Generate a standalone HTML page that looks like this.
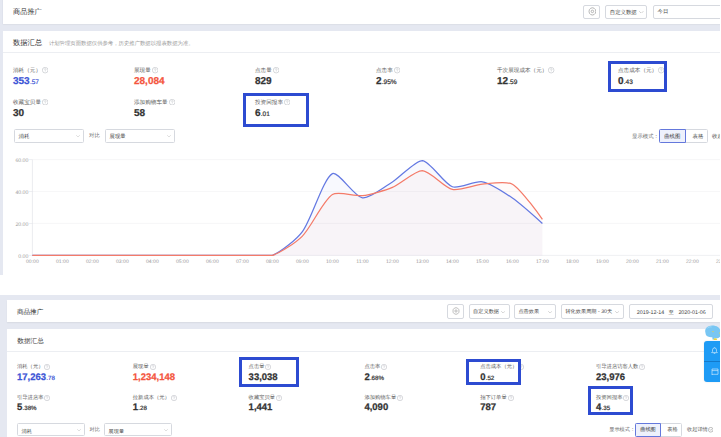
<!DOCTYPE html>
<html><head><meta charset="utf-8"><style>
html,body{margin:0;padding:0;background:#fff;}
body{width:721px;height:437px;position:relative;overflow:hidden;font-family:"Liberation Sans",sans-serif;text-rendering:geometricPrecision;}
.t{position:absolute;white-space:nowrap;line-height:1.15;}
.v{font-weight:bold;-webkit-text-stroke:0.25px currentColor;}
.b{position:absolute;}
.sm{font-weight:normal;-webkit-text-stroke:0.2px currentColor;margin-left:0.2px;}
.qs{display:inline-block;vertical-align:middle;}
</style></head><body>
<div class="b" style="left:0px;top:0px;width:721px;height:274.5px;background:#e5e8f1"></div>
<div class="b" style="left:3px;top:-2px;width:718px;height:25.5px;background:#fff;box-shadow:0 0.8px 1.5px rgba(60,60,70,0.13)"></div>
<div class="t" style="left:13px;top:7.9px;font-size:7.2px;color:#333;">商品推广</div>
<div class="b" style="left:582.7px;top:4.7px;width:17.8px;height:14.8px;border:0.6px solid #d6d9df;border-radius:2px;box-sizing:border-box;background:#fff"></div>
<svg class="b" style="left:587.5px;top:7.4px" width="8.8" height="8.8" viewBox="-6 -6 12 12"><path d="M-2.3,-4.3 Q0,-5.6 2.3,-4.3 Q4.6,-3 4.6,0 Q4.6,3 2.3,4.3 Q0,5.6 -2.3,4.3 Q-4.6,3 -4.6,0 Q-4.6,-3 -2.3,-4.3 Z" fill="none" stroke="#999" stroke-width="0.95"/><circle r="1.7" fill="none" stroke="#999" stroke-width="0.95"/></svg>
<div class="b" style="left:605px;top:4.7px;width:42.3px;height:14.8px;border:0.6px solid #d6d9df;border-radius:2px;box-sizing:border-box;background:#fff"></div>
<div class="t" style="left:609.8px;top:9.6px;font-size:5.4px;color:#444;">自定义数据</div>
<svg class="b" style="left:639px;top:10.8px" width="4.6" height="2.53" viewBox="0 0 10 5.5"><path d="M0.5,0.5 L5,5 L9.5,0.5" fill="none" stroke="#999" stroke-width="1"/></svg>
<div class="b" style="left:652.5px;top:4.7px;width:90px;height:14.8px;border:0.6px solid #d6d9df;border-radius:2px;box-sizing:border-box;background:#fff"></div>
<div class="t" style="left:657.6px;top:9.1px;font-size:5.4px;color:#444;">今日</div>
<div class="b" style="left:3px;top:30.6px;width:718px;height:244px;background:#fff"></div>
<div class="t" style="left:13px;top:38.6px;font-size:7.3px;color:#333;">数据汇总</div>
<div class="t" style="left:48.9px;top:40.6px;font-size:5.37px;color:#999;">计划管理页面数据仅供参考，历史推广数据以报表数据为准。</div>
<div class="b" style="left:3px;top:51.8px;width:718px;height:0.6px;background:#eceef2"></div>
<div class="t" style="left:13px;top:67.4px;font-size:5.6px;color:#5a5a5a">消耗（元）<svg class="qs" viewBox="0 0 12 12" style="width:6.3px;height:6.3px;margin-left:0.94px"><circle cx="6" cy="6" r="5.4" fill="none" stroke="#b9bcc2" stroke-width="1.1"/><path d="M4.4,4.7 A1.6,1.6 0 1 1 6.6,6.2 C6.1,6.5 6,6.8 6,7.4" fill="none" stroke="#b9bcc2" stroke-width="1.1"/><circle cx="6" cy="8.9" r="0.55" fill="#b9bcc2"/></svg></div>
<div class="t v" style="left:13px;top:75.6px;font-size:10px;color:#3d55d6">353<span class="sm" style="font-size:6.5px">.57</span></div>
<div class="t" style="left:134px;top:67.4px;font-size:5.6px;color:#5a5a5a">展现量<svg class="qs" viewBox="0 0 12 12" style="width:6.3px;height:6.3px;margin-left:0.94px"><circle cx="6" cy="6" r="5.4" fill="none" stroke="#b9bcc2" stroke-width="1.1"/><path d="M4.4,4.7 A1.6,1.6 0 1 1 6.6,6.2 C6.1,6.5 6,6.8 6,7.4" fill="none" stroke="#b9bcc2" stroke-width="1.1"/><circle cx="6" cy="8.9" r="0.55" fill="#b9bcc2"/></svg></div>
<div class="t v" style="left:134px;top:75.6px;font-size:10px;color:#f4553e">28,084<span class="sm" style="font-size:6.5px"></span></div>
<div class="t" style="left:255px;top:67.4px;font-size:5.6px;color:#5a5a5a">点击量<svg class="qs" viewBox="0 0 12 12" style="width:6.3px;height:6.3px;margin-left:0.94px"><circle cx="6" cy="6" r="5.4" fill="none" stroke="#b9bcc2" stroke-width="1.1"/><path d="M4.4,4.7 A1.6,1.6 0 1 1 6.6,6.2 C6.1,6.5 6,6.8 6,7.4" fill="none" stroke="#b9bcc2" stroke-width="1.1"/><circle cx="6" cy="8.9" r="0.55" fill="#b9bcc2"/></svg></div>
<div class="t v" style="left:255px;top:75.6px;font-size:10px;color:#333">829<span class="sm" style="font-size:6.5px"></span></div>
<div class="t" style="left:376px;top:67.4px;font-size:5.6px;color:#5a5a5a">点击率<svg class="qs" viewBox="0 0 12 12" style="width:6.3px;height:6.3px;margin-left:0.94px"><circle cx="6" cy="6" r="5.4" fill="none" stroke="#b9bcc2" stroke-width="1.1"/><path d="M4.4,4.7 A1.6,1.6 0 1 1 6.6,6.2 C6.1,6.5 6,6.8 6,7.4" fill="none" stroke="#b9bcc2" stroke-width="1.1"/><circle cx="6" cy="8.9" r="0.55" fill="#b9bcc2"/></svg></div>
<div class="t v" style="left:376px;top:75.6px;font-size:10px;color:#333">2<span class="sm" style="font-size:6.5px">.95%</span></div>
<div class="t" style="left:497px;top:67.4px;font-size:5.6px;color:#5a5a5a">千次展现成本（元）<svg class="qs" viewBox="0 0 12 12" style="width:6.3px;height:6.3px;margin-left:0.94px"><circle cx="6" cy="6" r="5.4" fill="none" stroke="#b9bcc2" stroke-width="1.1"/><path d="M4.4,4.7 A1.6,1.6 0 1 1 6.6,6.2 C6.1,6.5 6,6.8 6,7.4" fill="none" stroke="#b9bcc2" stroke-width="1.1"/><circle cx="6" cy="8.9" r="0.55" fill="#b9bcc2"/></svg></div>
<div class="t v" style="left:497px;top:75.6px;font-size:10px;color:#333">12<span class="sm" style="font-size:6.5px">.59</span></div>
<div class="t" style="left:618px;top:67.4px;font-size:5.6px;color:#5a5a5a">点击成本（元）<svg class="qs" viewBox="0 0 12 12" style="width:6.3px;height:6.3px;margin-left:0.94px"><circle cx="6" cy="6" r="5.4" fill="none" stroke="#b9bcc2" stroke-width="1.1"/><path d="M4.4,4.7 A1.6,1.6 0 1 1 6.6,6.2 C6.1,6.5 6,6.8 6,7.4" fill="none" stroke="#b9bcc2" stroke-width="1.1"/><circle cx="6" cy="8.9" r="0.55" fill="#b9bcc2"/></svg></div>
<div class="t v" style="left:618px;top:75.6px;font-size:10px;color:#333">0<span class="sm" style="font-size:6.5px">.43</span></div>
<div class="t" style="left:13px;top:98.9px;font-size:5.6px;color:#5a5a5a">收藏宝贝量<svg class="qs" viewBox="0 0 12 12" style="width:6.3px;height:6.3px;margin-left:0.94px"><circle cx="6" cy="6" r="5.4" fill="none" stroke="#b9bcc2" stroke-width="1.1"/><path d="M4.4,4.7 A1.6,1.6 0 1 1 6.6,6.2 C6.1,6.5 6,6.8 6,7.4" fill="none" stroke="#b9bcc2" stroke-width="1.1"/><circle cx="6" cy="8.9" r="0.55" fill="#b9bcc2"/></svg></div>
<div class="t v" style="left:13px;top:107.8px;font-size:10px;color:#333">30<span class="sm" style="font-size:6.5px"></span></div>
<div class="t" style="left:134px;top:98.9px;font-size:5.6px;color:#5a5a5a">添加购物车量<svg class="qs" viewBox="0 0 12 12" style="width:6.3px;height:6.3px;margin-left:0.94px"><circle cx="6" cy="6" r="5.4" fill="none" stroke="#b9bcc2" stroke-width="1.1"/><path d="M4.4,4.7 A1.6,1.6 0 1 1 6.6,6.2 C6.1,6.5 6,6.8 6,7.4" fill="none" stroke="#b9bcc2" stroke-width="1.1"/><circle cx="6" cy="8.9" r="0.55" fill="#b9bcc2"/></svg></div>
<div class="t v" style="left:134px;top:107.8px;font-size:10px;color:#333">58<span class="sm" style="font-size:6.5px"></span></div>
<div class="t" style="left:255px;top:98.9px;font-size:5.6px;color:#5a5a5a">投资回报率<svg class="qs" viewBox="0 0 12 12" style="width:6.3px;height:6.3px;margin-left:0.94px"><circle cx="6" cy="6" r="5.4" fill="none" stroke="#b9bcc2" stroke-width="1.1"/><path d="M4.4,4.7 A1.6,1.6 0 1 1 6.6,6.2 C6.1,6.5 6,6.8 6,7.4" fill="none" stroke="#b9bcc2" stroke-width="1.1"/><circle cx="6" cy="8.9" r="0.55" fill="#b9bcc2"/></svg></div>
<div class="t v" style="left:255px;top:107.8px;font-size:10px;color:#333">6<span class="sm" style="font-size:6.5px">.01</span></div>
<div class="b" style="left:243px;top:93px;width:66px;height:34px;border:3px solid #2d4bd1;box-sizing:border-box"></div>
<div class="b" style="left:608.3px;top:61.1px;width:59px;height:30.6px;border:3px solid #2d4bd1;box-sizing:border-box"></div>
<div class="b" style="left:13.5px;top:129.4px;width:70px;height:13.6px;border:0.6px solid #d6d9df;border-radius:1.5px;box-sizing:border-box;background:#fff"></div>
<div class="t" style="left:18.5px;top:133.752px;font-size:5.4px;color:#444;">消耗</div>
<svg class="b" style="left:75.5px;top:135.10000000000002px" width="4.0" height="2.2" viewBox="0 0 10 5.5"><path d="M0.5,0.5 L5,5 L9.5,0.5" fill="none" stroke="#aaa" stroke-width="1"/></svg>
<div class="t" style="left:89px;top:133.4px;font-size:5.4px;color:#666;">对比</div>
<div class="b" style="left:104.5px;top:129.4px;width:70.5px;height:13.6px;border:0.6px solid #d6d9df;border-radius:1.5px;box-sizing:border-box;background:#fff"></div>
<div class="t" style="left:109.5px;top:133.752px;font-size:5.4px;color:#444;">展现量</div>
<svg class="b" style="left:167.0px;top:135.10000000000002px" width="4.0" height="2.2" viewBox="0 0 10 5.5"><path d="M0.5,0.5 L5,5 L9.5,0.5" fill="none" stroke="#aaa" stroke-width="1"/></svg>
<div class="t" style="left:632px;top:134.1px;font-size:5.4px;color:#666;">显示模式：</div>
<div class="b" style="left:658.7px;top:129.2px;width:49px;height:13.4px;border:0.6px solid #d6d9df;border-radius:1.5px;box-sizing:border-box;background:#fff"></div>
<div class="b" style="left:658.7px;top:129.2px;width:27.3px;height:13.4px;border:0.7px solid #6478dc;border-radius:1.5px 0 0 1.5px;box-sizing:border-box;background:#eef1fc"></div>
<div class="t" style="left:664.2px;top:134.1px;font-size:5.4px;color:#333;">曲线图</div>
<div class="t" style="left:692.5px;top:134.1px;font-size:5.4px;color:#555;">表格</div>
<div class="t" style="left:712px;top:134.1px;font-size:5.4px;color:#555;">收起详情</div>
<svg class="b" style="left:0;top:0" width="721" height="437"><line x1="32.4" y1="223.46" x2="721" y2="223.46" stroke="#f1f2f4" stroke-width="0.6"/><line x1="32.4" y1="191.52" x2="721" y2="191.52" stroke="#f1f2f4" stroke-width="0.6"/><line x1="32.4" y1="159.58" x2="721" y2="159.58" stroke="#f1f2f4" stroke-width="0.6"/><line x1="32.4" y1="255.40" x2="721" y2="255.40" stroke="#e4e6ea" stroke-width="0.6"/><line x1="32.4" y1="159.58" x2="32.4" y2="255.40" stroke="#dcdfe4" stroke-width="0.6"/><line x1="29" y1="255.40" x2="32.4" y2="255.40" stroke="#dcdfe4" stroke-width="0.5"/><line x1="29" y1="223.46" x2="32.4" y2="223.46" stroke="#dcdfe4" stroke-width="0.5"/><line x1="29" y1="191.52" x2="32.4" y2="191.52" stroke="#dcdfe4" stroke-width="0.5"/><line x1="29" y1="159.58" x2="32.4" y2="159.58" stroke="#dcdfe4" stroke-width="0.5"/><path d="M32.40,255.40 C32.40,255.40 54.90,255.40 62.40,255.40 C69.90,255.40 84.90,255.40 92.40,255.40 C99.90,255.40 114.90,255.40 122.40,255.40 C129.90,255.40 144.90,255.40 152.40,255.40 C159.90,255.40 174.90,255.40 182.40,255.40 C189.90,255.40 204.90,255.40 212.40,255.40 C219.90,255.40 234.90,255.40 242.40,255.40 C249.90,255.40 265.81,255.40 272.40,255.40 C280.81,252.06 296.85,239.16 302.40,231.60 C311.85,218.72 322.97,178.93 332.40,173.63 C337.97,170.50 354.42,196.80 362.40,197.91 C369.42,198.88 385.20,186.42 392.40,181.94 C400.20,177.08 415.19,160.54 422.40,160.54 C430.19,161.16 443.89,183.72 452.40,186.73 C458.89,189.03 475.33,180.44 482.40,181.78 C490.33,183.28 505.43,193.22 512.40,198.07 C520.43,203.64 542.40,223.46 542.40,223.46 L542.40,255.40 L32.40,255.40 Z" fill="#5470e0" fill-opacity="0.042"/><path d="M32.40,255.40 C32.40,255.40 54.90,255.40 62.40,255.40 C69.90,255.40 84.90,255.40 92.40,255.40 C99.90,255.40 114.90,255.40 122.40,255.40 C129.90,255.40 144.90,255.40 152.40,255.40 C159.90,255.40 174.90,255.40 182.40,255.40 C189.90,255.40 204.90,255.40 212.40,255.40 C219.90,255.40 234.90,255.40 242.40,255.40 C249.90,255.40 265.55,255.40 272.40,255.40 C280.55,252.78 296.24,242.32 302.40,236.08 C311.24,227.11 322.94,200.92 332.40,194.55 C337.94,190.82 355.04,196.55 362.40,195.67 C370.04,194.76 385.27,190.35 392.40,187.37 C400.27,184.08 415.01,170.60 422.40,170.60 C430.01,170.86 444.33,187.62 452.40,189.44 C459.33,191.01 474.84,184.84 482.40,184.17 C489.84,183.52 506.49,180.72 512.40,184.17 C521.49,189.50 542.40,219.31 542.40,219.31 L542.40,255.40 L32.40,255.40 Z" fill="#f0584a" fill-opacity="0.03"/><path d="M32.40,255.40 C32.40,255.40 54.90,255.40 62.40,255.40 C69.90,255.40 84.90,255.40 92.40,255.40 C99.90,255.40 114.90,255.40 122.40,255.40 C129.90,255.40 144.90,255.40 152.40,255.40 C159.90,255.40 174.90,255.40 182.40,255.40 C189.90,255.40 204.90,255.40 212.40,255.40 C219.90,255.40 234.90,255.40 242.40,255.40 C249.90,255.40 265.81,255.40 272.40,255.40 C280.81,252.06 296.85,239.16 302.40,231.60 C311.85,218.72 322.97,178.93 332.40,173.63 C337.97,170.50 354.42,196.80 362.40,197.91 C369.42,198.88 385.20,186.42 392.40,181.94 C400.20,177.08 415.19,160.54 422.40,160.54 C430.19,161.16 443.89,183.72 452.40,186.73 C458.89,189.03 475.33,180.44 482.40,181.78 C490.33,183.28 505.43,193.22 512.40,198.07 C520.43,203.64 542.40,223.46 542.40,223.46" fill="none" stroke="#6479e2" stroke-width="1.25"/><path d="M32.40,255.40 C32.40,255.40 54.90,255.40 62.40,255.40 C69.90,255.40 84.90,255.40 92.40,255.40 C99.90,255.40 114.90,255.40 122.40,255.40 C129.90,255.40 144.90,255.40 152.40,255.40 C159.90,255.40 174.90,255.40 182.40,255.40 C189.90,255.40 204.90,255.40 212.40,255.40 C219.90,255.40 234.90,255.40 242.40,255.40 C249.90,255.40 265.55,255.40 272.40,255.40 C280.55,252.78 296.24,242.32 302.40,236.08 C311.24,227.11 322.94,200.92 332.40,194.55 C337.94,190.82 355.04,196.55 362.40,195.67 C370.04,194.76 385.27,190.35 392.40,187.37 C400.27,184.08 415.01,170.60 422.40,170.60 C430.01,170.86 444.33,187.62 452.40,189.44 C459.33,191.01 474.84,184.84 482.40,184.17 C489.84,183.52 506.49,180.72 512.40,184.17 C521.49,189.50 542.40,219.31 542.40,219.31" fill="none" stroke="#f47b69" stroke-width="1.25"/></svg>
<div class="t" style="left:0;width:28.4px;text-align:right;top:255.10px;font-size:5.2px;color:#9a9a9a">0.00</div>
<div class="t" style="left:0;width:28.4px;text-align:right;top:223.16px;font-size:5.2px;color:#9a9a9a">20.00</div>
<div class="t" style="left:0;width:28.4px;text-align:right;top:191.22px;font-size:5.2px;color:#9a9a9a">40.00</div>
<div class="t" style="left:0;width:28.4px;text-align:right;top:159.28px;font-size:5.2px;color:#9a9a9a">60.00</div>
<div class="t" style="left:17.40px;width:30px;text-align:center;top:260.3px;font-size:5.1px;color:#9a9a9a">00:00</div>
<div class="t" style="left:47.40px;width:30px;text-align:center;top:260.3px;font-size:5.1px;color:#9a9a9a">01:00</div>
<div class="t" style="left:77.40px;width:30px;text-align:center;top:260.3px;font-size:5.1px;color:#9a9a9a">02:00</div>
<div class="t" style="left:107.40px;width:30px;text-align:center;top:260.3px;font-size:5.1px;color:#9a9a9a">03:00</div>
<div class="t" style="left:137.40px;width:30px;text-align:center;top:260.3px;font-size:5.1px;color:#9a9a9a">04:00</div>
<div class="t" style="left:167.40px;width:30px;text-align:center;top:260.3px;font-size:5.1px;color:#9a9a9a">05:00</div>
<div class="t" style="left:197.40px;width:30px;text-align:center;top:260.3px;font-size:5.1px;color:#9a9a9a">06:00</div>
<div class="t" style="left:227.40px;width:30px;text-align:center;top:260.3px;font-size:5.1px;color:#9a9a9a">07:00</div>
<div class="t" style="left:257.40px;width:30px;text-align:center;top:260.3px;font-size:5.1px;color:#9a9a9a">08:00</div>
<div class="t" style="left:287.40px;width:30px;text-align:center;top:260.3px;font-size:5.1px;color:#9a9a9a">09:00</div>
<div class="t" style="left:317.40px;width:30px;text-align:center;top:260.3px;font-size:5.1px;color:#9a9a9a">10:00</div>
<div class="t" style="left:347.40px;width:30px;text-align:center;top:260.3px;font-size:5.1px;color:#9a9a9a">11:00</div>
<div class="t" style="left:377.40px;width:30px;text-align:center;top:260.3px;font-size:5.1px;color:#9a9a9a">12:00</div>
<div class="t" style="left:407.40px;width:30px;text-align:center;top:260.3px;font-size:5.1px;color:#9a9a9a">13:00</div>
<div class="t" style="left:437.40px;width:30px;text-align:center;top:260.3px;font-size:5.1px;color:#9a9a9a">14:00</div>
<div class="t" style="left:467.40px;width:30px;text-align:center;top:260.3px;font-size:5.1px;color:#9a9a9a">15:00</div>
<div class="t" style="left:497.40px;width:30px;text-align:center;top:260.3px;font-size:5.1px;color:#9a9a9a">16:00</div>
<div class="t" style="left:527.40px;width:30px;text-align:center;top:260.3px;font-size:5.1px;color:#9a9a9a">17:00</div>
<div class="t" style="left:557.40px;width:30px;text-align:center;top:260.3px;font-size:5.1px;color:#9a9a9a">18:00</div>
<div class="t" style="left:587.40px;width:30px;text-align:center;top:260.3px;font-size:5.1px;color:#9a9a9a">19:00</div>
<div class="t" style="left:617.40px;width:30px;text-align:center;top:260.3px;font-size:5.1px;color:#9a9a9a">20:00</div>
<div class="t" style="left:647.40px;width:30px;text-align:center;top:260.3px;font-size:5.1px;color:#9a9a9a">21:00</div>
<div class="t" style="left:677.40px;width:30px;text-align:center;top:260.3px;font-size:5.1px;color:#9a9a9a">22:00</div>
<div class="t" style="left:707.40px;width:30px;text-align:center;top:260.3px;font-size:5.1px;color:#9a9a9a">23:00</div>
<div class="b" style="left:0px;top:294.5px;width:721px;height:142.5px;background:#e5e8f1"></div>
<div class="b" style="left:6.7px;top:300.1px;width:713.3px;height:22.1px;background:#fff;box-shadow:0 0.6px 1.2px rgba(60,60,70,0.08)"></div>
<div class="t" style="left:16.9px;top:309.1px;font-size:6.6px;color:#333;">商品推广</div>
<div class="b" style="left:447.4px;top:304.4px;width:16.9px;height:14.2px;border:0.6px solid #d6d9df;border-radius:2px;box-sizing:border-box;background:#fff"></div>
<svg class="b" style="left:451.9px;top:307.4px" width="8.0" height="8.0" viewBox="-6 -6 12 12"><path d="M-2.3,-4.3 Q0,-5.6 2.3,-4.3 Q4.6,-3 4.6,0 Q4.6,3 2.3,4.3 Q0,5.6 -2.3,4.3 Q-4.6,3 -4.6,0 Q-4.6,-3 -2.3,-4.3 Z" fill="none" stroke="#999" stroke-width="0.95"/><circle r="1.7" fill="none" stroke="#999" stroke-width="0.95"/></svg>
<div class="b" style="left:468.5px;top:304.4px;width:41px;height:14.2px;border:0.6px solid #d6d9df;border-radius:2px;box-sizing:border-box;background:#fff"></div>
<div class="t" style="left:473.1px;top:310.3px;font-size:5.2px;color:#444;">自定义数据</div>
<svg class="b" style="left:500.5px;top:310.6px" width="4.2" height="2.3100000000000005" viewBox="0 0 10 5.5"><path d="M0.5,0.5 L5,5 L9.5,0.5" fill="none" stroke="#999" stroke-width="1"/></svg>
<div class="b" style="left:513.8px;top:304.4px;width:42.7px;height:14.2px;border:0.6px solid #d6d9df;border-radius:2px;box-sizing:border-box;background:#fff"></div>
<div class="t" style="left:518.4px;top:310.3px;font-size:5.2px;color:#444;">点击效果</div>
<svg class="b" style="left:547.5px;top:310.6px" width="4.2" height="2.3100000000000005" viewBox="0 0 10 5.5"><path d="M0.5,0.5 L5,5 L9.5,0.5" fill="none" stroke="#999" stroke-width="1"/></svg>
<div class="b" style="left:560.8px;top:304.4px;width:63.3px;height:14.2px;border:0.6px solid #d6d9df;border-radius:2px;box-sizing:border-box;background:#fff"></div>
<div class="t" style="left:565.4px;top:310.3px;font-size:5.2px;color:#444;">转化效果周期 - 30天</div>
<svg class="b" style="left:615.0999999999999px;top:310.6px" width="4.2" height="2.3100000000000005" viewBox="0 0 10 5.5"><path d="M0.5,0.5 L5,5 L9.5,0.5" fill="none" stroke="#999" stroke-width="1"/></svg>
<div class="b" style="left:629.2px;top:304.4px;width:84.3px;height:14.2px;border:0.6px solid #d6d9df;border-radius:2px;box-sizing:border-box;background:#fff"></div>
<div class="t" style="left:636.8px;top:310.2px;font-size:5.35px;color:#444;">2019-12-14 &nbsp; 至 &nbsp; 2020-01-06</div>
<div class="b" style="left:6.5px;top:328.6px;width:713.5px;height:110px;background:#fff"></div>
<div class="t" style="left:17.2px;top:338.0px;font-size:6.7px;color:#444;">数据汇总</div>
<div class="b" style="left:6.5px;top:351.3px;width:713.5px;height:0.6px;background:#eceef2"></div>
<div class="t" style="left:17px;top:364.4px;font-size:5.3px;color:#5a5a5a">消耗（元）<svg class="qs" viewBox="0 0 12 12" style="width:6.0px;height:6.0px;margin-left:0.9px"><circle cx="6" cy="6" r="5.4" fill="none" stroke="#b9bcc2" stroke-width="1.1"/><path d="M4.4,4.7 A1.6,1.6 0 1 1 6.6,6.2 C6.1,6.5 6,6.8 6,7.4" fill="none" stroke="#b9bcc2" stroke-width="1.1"/><circle cx="6" cy="8.9" r="0.55" fill="#b9bcc2"/></svg></div>
<div class="t v" style="left:17px;top:373.0px;font-size:9.5px;color:#3d55d6">17,263<span class="sm" style="font-size:6.2px">.78</span></div>
<div class="t" style="left:132.8px;top:364.4px;font-size:5.3px;color:#5a5a5a">展现量<svg class="qs" viewBox="0 0 12 12" style="width:6.0px;height:6.0px;margin-left:0.9px"><circle cx="6" cy="6" r="5.4" fill="none" stroke="#b9bcc2" stroke-width="1.1"/><path d="M4.4,4.7 A1.6,1.6 0 1 1 6.6,6.2 C6.1,6.5 6,6.8 6,7.4" fill="none" stroke="#b9bcc2" stroke-width="1.1"/><circle cx="6" cy="8.9" r="0.55" fill="#b9bcc2"/></svg></div>
<div class="t v" style="left:132.8px;top:373.0px;font-size:9.5px;color:#f4553e">1,234,148<span class="sm" style="font-size:6.2px"></span></div>
<div class="t" style="left:248.6px;top:364.4px;font-size:5.3px;color:#5a5a5a">点击量<svg class="qs" viewBox="0 0 12 12" style="width:6.0px;height:6.0px;margin-left:0.9px"><circle cx="6" cy="6" r="5.4" fill="none" stroke="#b9bcc2" stroke-width="1.1"/><path d="M4.4,4.7 A1.6,1.6 0 1 1 6.6,6.2 C6.1,6.5 6,6.8 6,7.4" fill="none" stroke="#b9bcc2" stroke-width="1.1"/><circle cx="6" cy="8.9" r="0.55" fill="#b9bcc2"/></svg></div>
<div class="t v" style="left:248.6px;top:373.0px;font-size:9.5px;color:#333">33,038<span class="sm" style="font-size:6.2px"></span></div>
<div class="t" style="left:364.4px;top:364.4px;font-size:5.3px;color:#5a5a5a">点击率<svg class="qs" viewBox="0 0 12 12" style="width:6.0px;height:6.0px;margin-left:0.9px"><circle cx="6" cy="6" r="5.4" fill="none" stroke="#b9bcc2" stroke-width="1.1"/><path d="M4.4,4.7 A1.6,1.6 0 1 1 6.6,6.2 C6.1,6.5 6,6.8 6,7.4" fill="none" stroke="#b9bcc2" stroke-width="1.1"/><circle cx="6" cy="8.9" r="0.55" fill="#b9bcc2"/></svg></div>
<div class="t v" style="left:364.4px;top:373.0px;font-size:9.5px;color:#333">2<span class="sm" style="font-size:6.2px">.68%</span></div>
<div class="t" style="left:480.2px;top:364.4px;font-size:5.3px;color:#5a5a5a">点击成本（元）<svg class="qs" viewBox="0 0 12 12" style="width:6.0px;height:6.0px;margin-left:0.9px"><circle cx="6" cy="6" r="5.4" fill="none" stroke="#b9bcc2" stroke-width="1.1"/><path d="M4.4,4.7 A1.6,1.6 0 1 1 6.6,6.2 C6.1,6.5 6,6.8 6,7.4" fill="none" stroke="#b9bcc2" stroke-width="1.1"/><circle cx="6" cy="8.9" r="0.55" fill="#b9bcc2"/></svg></div>
<div class="t v" style="left:480.2px;top:373.0px;font-size:9.5px;color:#333">0<span class="sm" style="font-size:6.2px">.52</span></div>
<div class="t" style="left:596px;top:364.4px;font-size:5.3px;color:#5a5a5a">引导进店访客人数<svg class="qs" viewBox="0 0 12 12" style="width:6.0px;height:6.0px;margin-left:0.9px"><circle cx="6" cy="6" r="5.4" fill="none" stroke="#b9bcc2" stroke-width="1.1"/><path d="M4.4,4.7 A1.6,1.6 0 1 1 6.6,6.2 C6.1,6.5 6,6.8 6,7.4" fill="none" stroke="#b9bcc2" stroke-width="1.1"/><circle cx="6" cy="8.9" r="0.55" fill="#b9bcc2"/></svg></div>
<div class="t v" style="left:596px;top:373.0px;font-size:9.5px;color:#333">23,976<span class="sm" style="font-size:6.2px"></span></div>
<div class="t" style="left:17px;top:395.1px;font-size:5.3px;color:#5a5a5a">引导进店率<svg class="qs" viewBox="0 0 12 12" style="width:6.0px;height:6.0px;margin-left:0.9px"><circle cx="6" cy="6" r="5.4" fill="none" stroke="#b9bcc2" stroke-width="1.1"/><path d="M4.4,4.7 A1.6,1.6 0 1 1 6.6,6.2 C6.1,6.5 6,6.8 6,7.4" fill="none" stroke="#b9bcc2" stroke-width="1.1"/><circle cx="6" cy="8.9" r="0.55" fill="#b9bcc2"/></svg></div>
<div class="t v" style="left:17px;top:403.0px;font-size:9.5px;color:#333">5<span class="sm" style="font-size:6.2px">.38%</span></div>
<div class="t" style="left:132.8px;top:395.1px;font-size:5.3px;color:#5a5a5a">拉新成本（元）<svg class="qs" viewBox="0 0 12 12" style="width:6.0px;height:6.0px;margin-left:0.9px"><circle cx="6" cy="6" r="5.4" fill="none" stroke="#b9bcc2" stroke-width="1.1"/><path d="M4.4,4.7 A1.6,1.6 0 1 1 6.6,6.2 C6.1,6.5 6,6.8 6,7.4" fill="none" stroke="#b9bcc2" stroke-width="1.1"/><circle cx="6" cy="8.9" r="0.55" fill="#b9bcc2"/></svg></div>
<div class="t v" style="left:132.8px;top:403.0px;font-size:9.5px;color:#333">1<span class="sm" style="font-size:6.2px">.28</span></div>
<div class="t" style="left:248.6px;top:395.1px;font-size:5.3px;color:#5a5a5a">收藏宝贝量<svg class="qs" viewBox="0 0 12 12" style="width:6.0px;height:6.0px;margin-left:0.9px"><circle cx="6" cy="6" r="5.4" fill="none" stroke="#b9bcc2" stroke-width="1.1"/><path d="M4.4,4.7 A1.6,1.6 0 1 1 6.6,6.2 C6.1,6.5 6,6.8 6,7.4" fill="none" stroke="#b9bcc2" stroke-width="1.1"/><circle cx="6" cy="8.9" r="0.55" fill="#b9bcc2"/></svg></div>
<div class="t v" style="left:248.6px;top:403.0px;font-size:9.5px;color:#333">1,441<span class="sm" style="font-size:6.2px"></span></div>
<div class="t" style="left:364.4px;top:395.1px;font-size:5.3px;color:#5a5a5a">添加购物车量<svg class="qs" viewBox="0 0 12 12" style="width:6.0px;height:6.0px;margin-left:0.9px"><circle cx="6" cy="6" r="5.4" fill="none" stroke="#b9bcc2" stroke-width="1.1"/><path d="M4.4,4.7 A1.6,1.6 0 1 1 6.6,6.2 C6.1,6.5 6,6.8 6,7.4" fill="none" stroke="#b9bcc2" stroke-width="1.1"/><circle cx="6" cy="8.9" r="0.55" fill="#b9bcc2"/></svg></div>
<div class="t v" style="left:364.4px;top:403.0px;font-size:9.5px;color:#333">4,090<span class="sm" style="font-size:6.2px"></span></div>
<div class="t" style="left:480.2px;top:395.1px;font-size:5.3px;color:#5a5a5a">拍下订单量<svg class="qs" viewBox="0 0 12 12" style="width:6.0px;height:6.0px;margin-left:0.9px"><circle cx="6" cy="6" r="5.4" fill="none" stroke="#b9bcc2" stroke-width="1.1"/><path d="M4.4,4.7 A1.6,1.6 0 1 1 6.6,6.2 C6.1,6.5 6,6.8 6,7.4" fill="none" stroke="#b9bcc2" stroke-width="1.1"/><circle cx="6" cy="8.9" r="0.55" fill="#b9bcc2"/></svg></div>
<div class="t v" style="left:480.2px;top:403.0px;font-size:9.5px;color:#333">787<span class="sm" style="font-size:6.2px"></span></div>
<div class="t" style="left:596px;top:395.1px;font-size:5.3px;color:#5a5a5a">投资回报率<svg class="qs" viewBox="0 0 12 12" style="width:6.0px;height:6.0px;margin-left:0.9px"><circle cx="6" cy="6" r="5.4" fill="none" stroke="#b9bcc2" stroke-width="1.1"/><path d="M4.4,4.7 A1.6,1.6 0 1 1 6.6,6.2 C6.1,6.5 6,6.8 6,7.4" fill="none" stroke="#b9bcc2" stroke-width="1.1"/><circle cx="6" cy="8.9" r="0.55" fill="#b9bcc2"/></svg></div>
<div class="t v" style="left:596px;top:403.0px;font-size:9.5px;color:#333">4<span class="sm" style="font-size:6.2px">.35</span></div>
<div class="b" style="left:238.6px;top:356.7px;width:60.6px;height:30.3px;border:3px solid #2d4bd1;box-sizing:border-box"></div>
<div class="b" style="left:466px;top:359px;width:54.7px;height:25.9px;border:3px solid #2d4bd1;box-sizing:border-box"></div>
<div class="b" style="left:587.8px;top:386.3px;width:45.1px;height:28.7px;border:3px solid #2d4bd1;box-sizing:border-box"></div>
<div class="b" style="left:16.6px;top:423px;width:68px;height:13.4px;border:0.6px solid #d6d9df;border-radius:1.5px;box-sizing:border-box;background:#fff"></div>
<div class="t" style="left:21.6px;top:429.776px;font-size:5.2px;color:#444;">消耗</div>
<svg class="b" style="left:76.6px;top:428.59999999999997px" width="4.0" height="2.2" viewBox="0 0 10 5.5"><path d="M0.5,0.5 L5,5 L9.5,0.5" fill="none" stroke="#aaa" stroke-width="1"/></svg>
<div class="t" style="left:89.5px;top:427.9px;font-size:5.2px;color:#666;">对比</div>
<div class="b" style="left:103.5px;top:423px;width:68.1px;height:13.4px;border:0.6px solid #d6d9df;border-radius:1.5px;box-sizing:border-box;background:#fff"></div>
<div class="t" style="left:108.5px;top:429.776px;font-size:5.2px;color:#444;">展现量</div>
<svg class="b" style="left:163.6px;top:428.59999999999997px" width="4.0" height="2.2" viewBox="0 0 10 5.5"><path d="M0.5,0.5 L5,5 L9.5,0.5" fill="none" stroke="#aaa" stroke-width="1"/></svg>
<div class="t" style="left:609.2px;top:427.9px;font-size:5.2px;color:#666;">显示模式：</div>
<div class="b" style="left:635.2px;top:423.4px;width:47px;height:13.2px;border:0.6px solid #d6d9df;border-radius:1.5px;box-sizing:border-box;background:#fff"></div>
<div class="b" style="left:635.2px;top:423.4px;width:25.5px;height:13.2px;border:0.7px solid #6478dc;border-radius:1.5px 0 0 1.5px;box-sizing:border-box;background:#eef1fc"></div>
<div class="t" style="left:640.2px;top:427.9px;font-size:5.2px;color:#333;">曲线图</div>
<div class="t" style="left:667.3px;top:427.9px;font-size:5.2px;color:#555;">表格</div>
<div class="t" style="left:687px;top:427.9px;font-size:5.2px;color:#555;">收起详情</div>
<svg class="b" style="left:707.5px;top:427px" width="5.5" height="5.5" viewBox="0 0 10 10"><circle cx="5" cy="5" r="4.3" fill="none" stroke="#888" stroke-width="1"/><path d="M3,4 L5,6 L7,4" fill="none" stroke="#888" stroke-width="1"/></svg>
<div class="b" style="left:704px;top:340.5px;width:17px;height:41.5px;background:#1e9bf5;border-radius:3px 0 0 3px;box-shadow:0 0 2px rgba(0,0,0,0.12)"></div>
<div class="b" style="left:704px;top:360.8px;width:17px;height:0.7px;background:#1479c9"></div>
<svg class="b" style="left:703px;top:324px" width="18" height="18" viewBox="0 0 18 18"><path d="M2.2,7.5 C2,4 5,1.6 9,1.5 C13.5,1.4 17,3.5 17.5,7 L17.5,12.5 C15.5,14.5 12.5,14.8 11.5,13.8 L11.8,15.5 L9.5,15.5 L9.3,13.2 C6.5,13.5 3.5,12.5 2.8,10.5 Z" fill="#78c6f3"/><path d="M4,4.5 C5,3 7,2.5 8.5,3" fill="none" stroke="#a8dcf8" stroke-width="0.8"/><circle cx="10" cy="7.6" r="0.7" fill="#e8d24a"/><circle cx="16.5" cy="9" r="0.6" fill="#e8d24a"/><ellipse cx="12.3" cy="15.2" rx="1.8" ry="0.9" fill="#eed43a"/></svg>
<svg class="b" style="left:710.5px;top:347px" width="7" height="7.5" viewBox="0 0 7 7.5"><path d="M0.6,5.6 L1.5,4.6 L1.5,2.9 A2,2 0 0 1 5.5,2.9 L5.5,4.6 L6.4,5.6 Z M2.7,6.4 L4.3,6.4" fill="none" stroke="#e6f3fe" stroke-width="0.6" stroke-linejoin="round"/><path d="M3.5,0.3 L3.5,0.9" stroke="#e6f3fe" stroke-width="0.6"/></svg>
<svg class="b" style="left:710.5px;top:368.2px" width="8" height="8" viewBox="0 0 8 8"><path d="M1.6,6.3 L1,7 L1,1 L7,1 L7,6.3 Z" fill="none" stroke="#e6f3fe" stroke-width="0.6" stroke-linejoin="round"/><path d="M1,2.6 L7,2.6" stroke="#e6f3fe" stroke-width="0.6"/></svg>
<div class="b" style="left:720px;top:0;width:1px;height:437px;background:#fff"></div>
</body></html>
